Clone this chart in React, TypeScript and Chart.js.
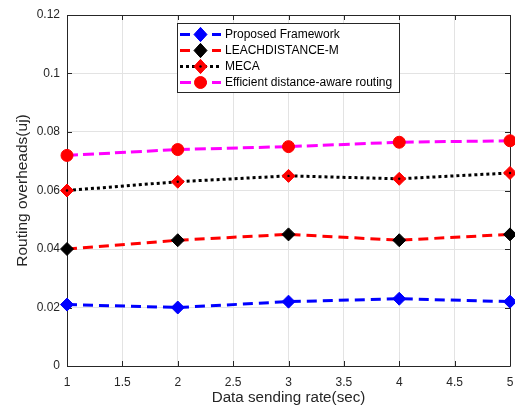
import React, { useEffect, useRef } from "react";
import { Chart, registerables } from "chart.js";

Chart.register(...registerables);

const xValues = [1, 2, 3, 4, 5];
const proposed = [0.021, 0.02, 0.022, 0.023, 0.022];
const leach = [0.04, 0.043, 0.045, 0.043, 0.045];
const meca = [0.06, 0.063, 0.065, 0.064, 0.066];
const efficient = [0.072, 0.074, 0.075, 0.0765, 0.077];
const seriesLabels = [
  "Proposed Framework",
  "LEACHDISTANCE-M",
  "MECA",
  "Efficient distance-aware routing",
];
const xTitle = "Data sending rate(sec)";
const yTitle = "Routing overheads(uj)";

const FONT = "'Liberation Sans', Arial, Helvetica, sans-serif";
const AX = "#262626";

function drawMarker(ctx: CanvasRenderingContext2D, style: string, x: number, y: number, r: number, fill: string, stroke: string) {
  ctx.save();
  ctx.setLineDash([]);
  ctx.fillStyle = fill;
  ctx.strokeStyle = stroke;
  ctx.lineWidth = 1;
  ctx.beginPath();
  if (style === "circle") {
    ctx.arc(x, y, r, 0, Math.PI * 2);
  } else {
    ctx.moveTo(x - r, y);
    ctx.lineTo(x, y - r * 1.1);
    ctx.lineTo(x + r, y);
    ctx.lineTo(x, y + r * 1.1);
    ctx.closePath();
  }
  ctx.fill();
  ctx.stroke();
  ctx.restore();
}

function centerDot(ctx: CanvasRenderingContext2D, x: number, y: number) {
  ctx.save();
  ctx.fillStyle = "#000000";
  ctx.beginPath();
  ctx.arc(x, y, 1.2, 0, Math.PI * 2);
  ctx.fill();
  ctx.restore();
}

const framePlugin = {
  id: "frame",
  beforeDatasetsDraw(chart: any) {
    const { ctx, chartArea } = chart;
    const { left, right, top, bottom } = chartArea;
    const xs = chart.scales.x;
    const ys = chart.scales.y;
    ctx.save();
    ctx.strokeStyle = AX;
    ctx.lineWidth = 1;
    ctx.setLineDash([]);
    ctx.beginPath();
    ctx.rect(Math.round(left) + 0.5, Math.round(top) + 0.5, Math.round(right - left), Math.round(bottom - top));
    ctx.stroke();
    const tl = 5;
    ctx.beginPath();
    xs.ticks.forEach((t: any, i: number) => {
      const px = Math.round(xs.getPixelForTick(i)) + 0.5;
      ctx.moveTo(px, bottom);
      ctx.lineTo(px, bottom - tl);
      ctx.moveTo(px, top);
      ctx.lineTo(px, top + tl);
    });
    ys.ticks.forEach((t: any, i: number) => {
      const py = Math.round(ys.getPixelForTick(i)) + 0.5;
      ctx.moveTo(left, py);
      ctx.lineTo(left + tl, py);
      ctx.moveTo(right, py);
      ctx.lineTo(right - tl, py);
    });
    ctx.stroke();
    ctx.restore();
  },
  afterDatasetsDraw(chart: any) {
    const meta = chart.getDatasetMeta(2);
    meta.data.forEach((pt: any) => centerDot(chart.ctx, pt.x, pt.y));
  },
};

const legendPlugin = {
  id: "customLegend",
  afterDraw(chart: any) {
    const { ctx } = chart;
    const bx = 177.5, by = 23.5, bw = 222, bh = 69;
    ctx.save();
    ctx.fillStyle = "#ffffff";
    ctx.fillRect(bx, by, bw, bh);
    ctx.strokeStyle = AX;
    ctx.lineWidth = 1;
    ctx.setLineDash([]);
    ctx.strokeRect(bx, by, bw, bh);
    chart.data.datasets.forEach((ds: any, i: number) => {
      const cy = 34.5 + i * 16;
      ctx.save();
      ctx.strokeStyle = ds.borderColor;
      ctx.lineWidth = ds.borderWidth;
      ctx.setLineDash(ds.borderDash || []);
      ctx.beginPath();
      ctx.moveTo(180, cy);
      ctx.lineTo(221, cy);
      ctx.stroke();
      ctx.restore();
      drawMarker(ctx, ds.pointStyle, 200.5, cy, ds.pointRadius, ds.pointBackgroundColor, ds.pointBorderColor);
      if (i === 2) centerDot(ctx, 200.5, cy);
      ctx.fillStyle = "#000000";
      ctx.font = `12px ${FONT}`;
      ctx.textBaseline = "middle";
      ctx.textAlign = "left";
      ctx.fillText(ds.label, 225, cy + 0.5);
    });
    ctx.restore();
  },
};

export default function App() {
  const canvasRef = useRef<HTMLCanvasElement | null>(null);

  useEffect(() => {
    if (!canvasRef.current) return;
    const mk = (label: string, data: number[], line: string, dash: number[], style: string, r: number, fill: string) => ({
      label,
      data: data.map((v, i) => ({ x: xValues[i], y: v })),
      borderColor: line,
      borderWidth: 3,
      borderDash: dash,
      pointStyle: style,
      pointRadius: r,
      pointHoverRadius: r,
      pointBackgroundColor: fill,
      pointBorderColor: fill,
      pointBorderWidth: 1,
      tension: 0,
      clip: false as any,
      fill: false,
    });
    const chart = new Chart(canvasRef.current, {
      type: "line",
      data: {
        datasets: [
          mk(seriesLabels[0], proposed, "#0000ff", [10, 6], "rectRot", 6.5, "#0000ff"),
          mk(seriesLabels[1], leach, "#ff0000", [10, 6], "rectRot", 6.5, "#000000"),
          mk(seriesLabels[2], meca, "#000000", [3, 3], "rectRot", 6.5, "#ff0000"),
          mk(seriesLabels[3], efficient, "#ff00ff", [11, 5], "circle", 6, "#ff0000"),
        ],
      },
      options: {
        animation: false,
        responsive: false,
        maintainAspectRatio: false,
        layout: { autoPadding: false, padding: { left: 0, right: 5, top: 15, bottom: 0 } },
        plugins: {
          legend: { display: false },
          tooltip: { enabled: false },
        },
        scales: {
          x: {
            type: "linear",
            min: 1,
            max: 5,
            ticks: {
              stepSize: 0.5,
              color: AX,
              font: { family: FONT, size: 12 },
              padding: 9,
              maxRotation: 0,
              callback: (v: any) => String(Number(Number(v).toFixed(2))),
            },
            grid: { color: "#e3e3e3", drawTicks: false, tickLength: 0 },
            border: { display: false },
            title: {
              display: true,
              text: xTitle,
              color: AX,
              font: { family: FONT, size: 15.2 },
              padding: { top: 2, bottom: 0 },
            },
            afterFit: (s: any) => {
              s.height = 41;
              s.paddingLeft = 0;
              s.paddingRight = 0;
            },
          },
          y: {
            type: "linear",
            min: 0,
            max: 0.12,
            ticks: {
              stepSize: 0.02,
              color: AX,
              font: { family: FONT, size: 12 },
              padding: 7,
              callback: (v: any) => String(Number(Number(v).toFixed(2))),
            },
            grid: { color: "#e3e3e3", drawTicks: false, tickLength: 0 },
            border: { display: false },
            title: {
              display: true,
              text: yTitle,
              color: AX,
              font: { family: FONT, size: 15.5 },
              padding: { top: 13, bottom: 0 },
            },
            afterFit: (s: any) => {
              s.width = 67;
              s.paddingTop = 0;
              s.paddingBottom = 0;
            },
          },
        },
      },
      plugins: [framePlugin, legendPlugin],
    });
    return () => chart.destroy();
  }, []);

  return (
    <div style={{ position: "fixed", left: 0, top: 0, width: 515, height: 407, background: "#ffffff" }}>
      <canvas ref={canvasRef} width={515} height={407} style={{ display: "block" }} />
    </div>
  );
}
